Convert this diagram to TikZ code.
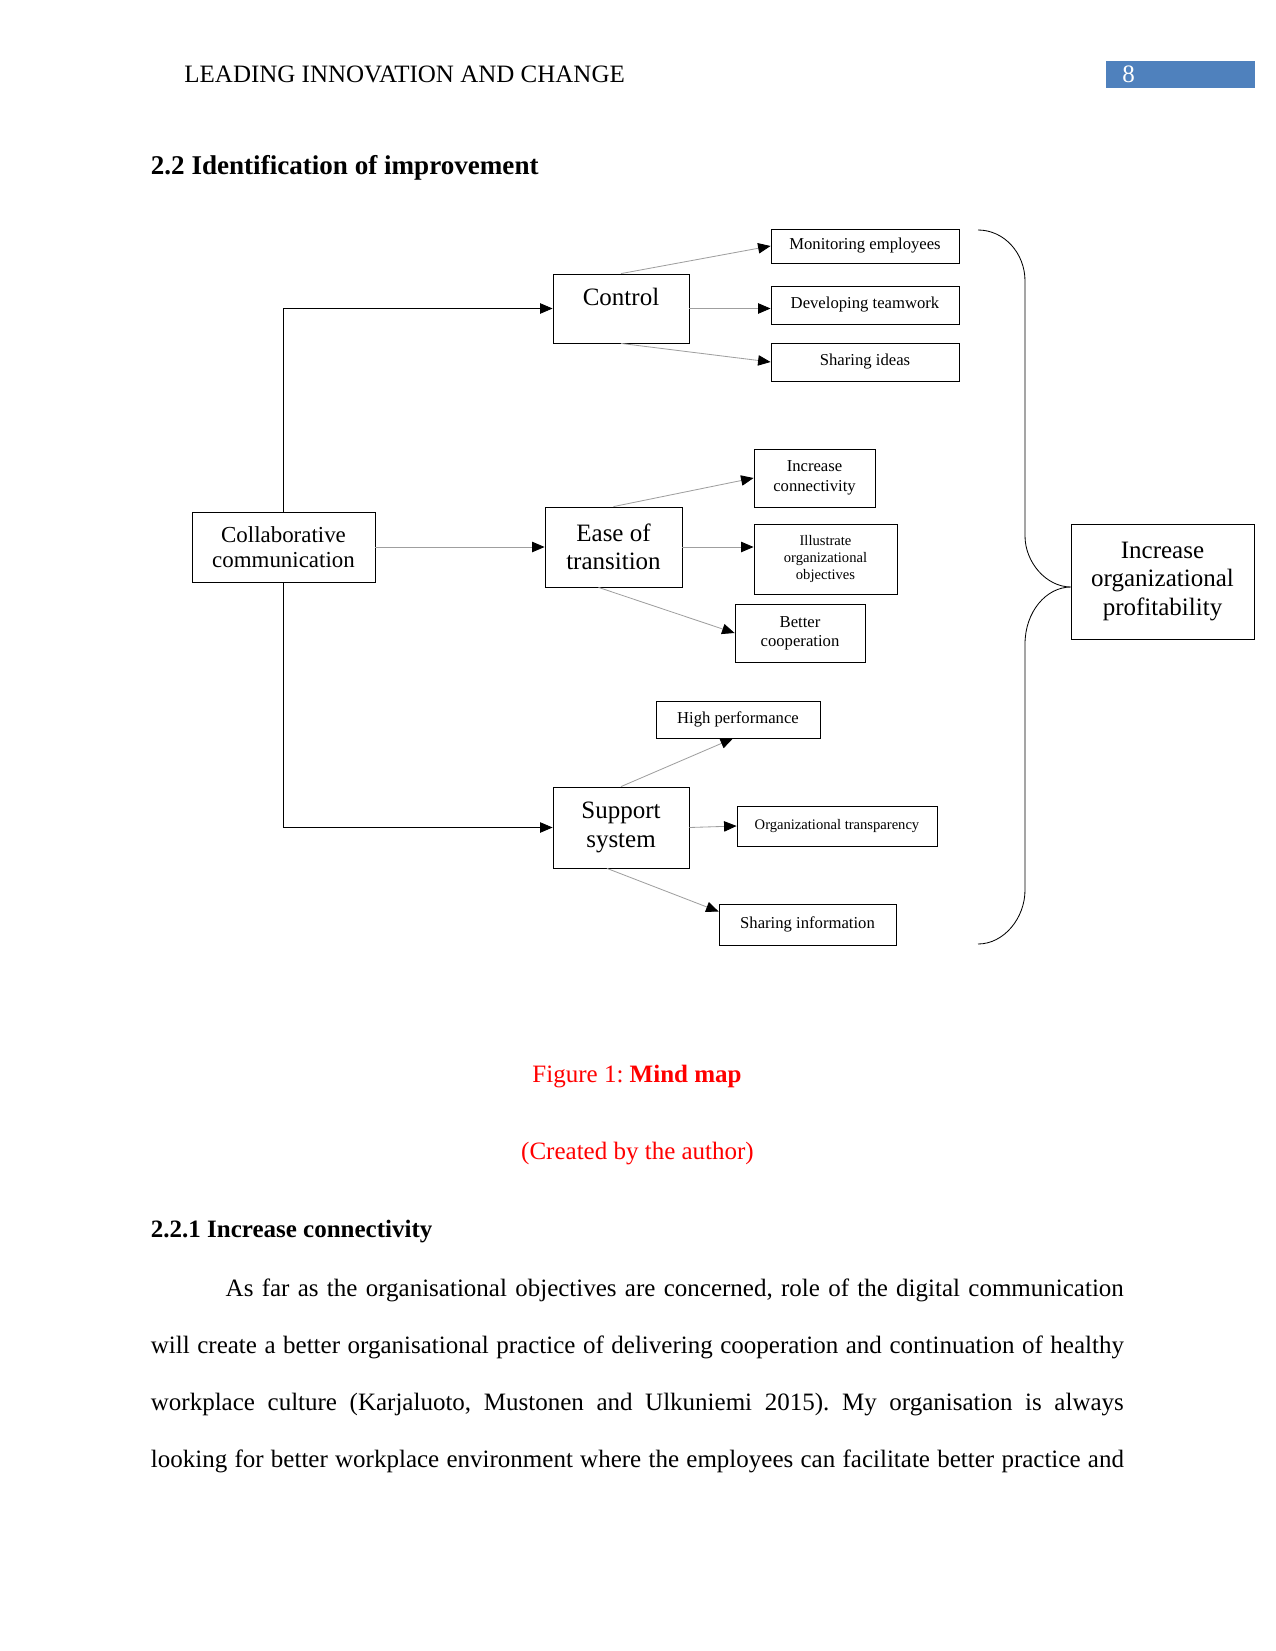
\documentclass[tikz,border=0pt]{standalone}
\usepackage{fontspec}
\setmainfont{Liberation Serif}
\usetikzlibrary{arrows.meta}
\definecolor{pageblue}{HTML}{4F81BD}
\newdimen\pxu
\pxu=0.48pt
\frenchspacing

\begin{document}
\begin{tikzpicture}[x=0.48pt, y=-0.48pt,
        box/.style={draw, thin, inner sep=0pt, align=center},
        big/.style={box, font=\fontsize{12}{13.6}\selectfont},
        small/.style={box, font=\fontsize{8}{9.3}\selectfont},
        mini/.style={box, font=\fontsize{7}{8}\selectfont},
        edge/.style={-{Triangle[length=6pt, width=5pt, color=black]}, draw=gray!75, thin},
        link/.style={-{Triangle[length=6pt, width=5pt]}, thin},
        pagetext/.style={font=\fontsize{12}{14}\selectfont, inner sep=0pt, anchor=base west}
    ]
    \useasboundingbox (0,0) rectangle (1275,1651);

    \node[pagetext] (header) at (184,83) {LEADING INNOVATION AND CHANGE};
    \fill[pageblue] (1105.5,61) rectangle (1255,88.5);
    \node[pagetext, text=white] (pagenum) at (1122,83) {8};
    \node[pagetext, font=\fontsize{13}{15}\selectfont\bfseries] (heading) at (150.5,175) {2.2 Identification of improvement};

    \node[big, minimum width=183\pxu, minimum height=70\pxu, font=\fontsize{11}{12}\selectfont] (collab) at (283.5,547) {Collaborative\\communication};

    \node[big, minimum width=136\pxu, text height=31\pxu, text depth=38\pxu] (control) at (621,308.5) {Control};
    \node[big, minimum width=137\pxu, minimum height=80\pxu] (ease) at (613.5,547) {Ease of\\transition};
    \node[big, minimum width=136\pxu, minimum height=81\pxu] (support) at (621,827.5) {Support\\system};

    \node[small, minimum width=188\pxu, minimum height=34\pxu] (monitor) at (865,246) {Monitoring employees};
    \node[small, minimum width=188\pxu, minimum height=38\pxu] (teamwork) at (865,305) {Developing teamwork};
    \node[small, minimum width=188\pxu, minimum height=38\pxu] (ideas) at (865,362) {Sharing ideas};

    \node[small, minimum width=121\pxu, minimum height=58\pxu] (connect) at (814.5,478) {Increase\\connectivity};
    \node[mini, minimum width=143\pxu, minimum height=70\pxu] (objectives) at (825.5,559) {Illustrate\\organizational\\objectives};
    \node[small, minimum width=130\pxu, minimum height=58\pxu] (coop) at (800,633) {Better\\cooperation};

    \node[small, minimum width=164\pxu, minimum height=37\pxu] (perform) at (738,719.5) {High performance};
    \node[mini, minimum width=200\pxu, minimum height=40\pxu] (transp) at (837,826) {Organizational transparency};
    \node[small, minimum width=177\pxu, minimum height=41\pxu] (info) at (807.5,924.5) {Sharing information};

    \node[big, minimum width=183\pxu, minimum height=115\pxu] (profit) at (1162.5,581.5) {Increase\\organizational\\profitability};

    \draw[link] (collab.north) |- (control.west);
    \draw[link] (collab.south) |- (support.west);
    \draw[edge] (collab.east) -- (ease.west);

    \draw[edge] (control.north) -- (monitor.west);
    \draw[edge] (control.east) -- (control.east -| teamwork.west);
    \draw[edge] (control.south) -- (ideas.west);

    \draw[edge] (ease.north) -- (connect.west);
    \draw[edge] (ease.east) -- (ease.east -| objectives.west);
    \draw[edge] ([xshift=-15\pxu]ease.south) -- (coop.west);

    \draw[edge] (support.north) -- ([xshift=-5\pxu]perform.south);
    \draw[edge] (support.east) -- (transp.west);
    \draw[edge] ([xshift=-14\pxu]support.south) -- ([yshift=13\pxu]info.west);

    \draw[thin] (978,230) .. controls (1004,230) and (1025,253) .. (1025,281)
        -- (1025,536) .. controls (1025,562) and (1046,587) .. (1071,587)
        .. controls (1046,587) and (1025,612) .. (1025,644)
        -- (1025,890) .. controls (1025,918) and (1004,944) .. (978,944);

    \node[pagetext, anchor=base, text=red] (caption) at (637,1082) {Figure 1: \textbf{Mind map}};
    \node[pagetext, anchor=base, text=red] (source) at (637.5,1159) {(Created by the author)};

    \node[pagetext, font=\fontsize{12}{14}\selectfont\bfseries] (subheading) at (150.5,1237) {2.2.1 Increase connectivity};
    \node[pagetext] (line1) at (225.3,1296) {\makebox[431.1pt][s]{As far as the organisational objectives are concerned, role of the digital communication}};
    \node[pagetext] (line2) at (150.5,1353) {\makebox[467pt][s]{will create a better organisational practice of delivering cooperation and continuation of healthy}};
    \node[pagetext] (line3) at (150.5,1410) {\makebox[467pt][s]{workplace culture (Karjaluoto, Mustonen and Ulkuniemi 2015). My organisation is always}};
    \node[pagetext] (line4) at (150.5,1467) {\makebox[467pt][s]{looking for better workplace environment where the employees can facilitate better practice and}};
\end{tikzpicture}
\end{document}
